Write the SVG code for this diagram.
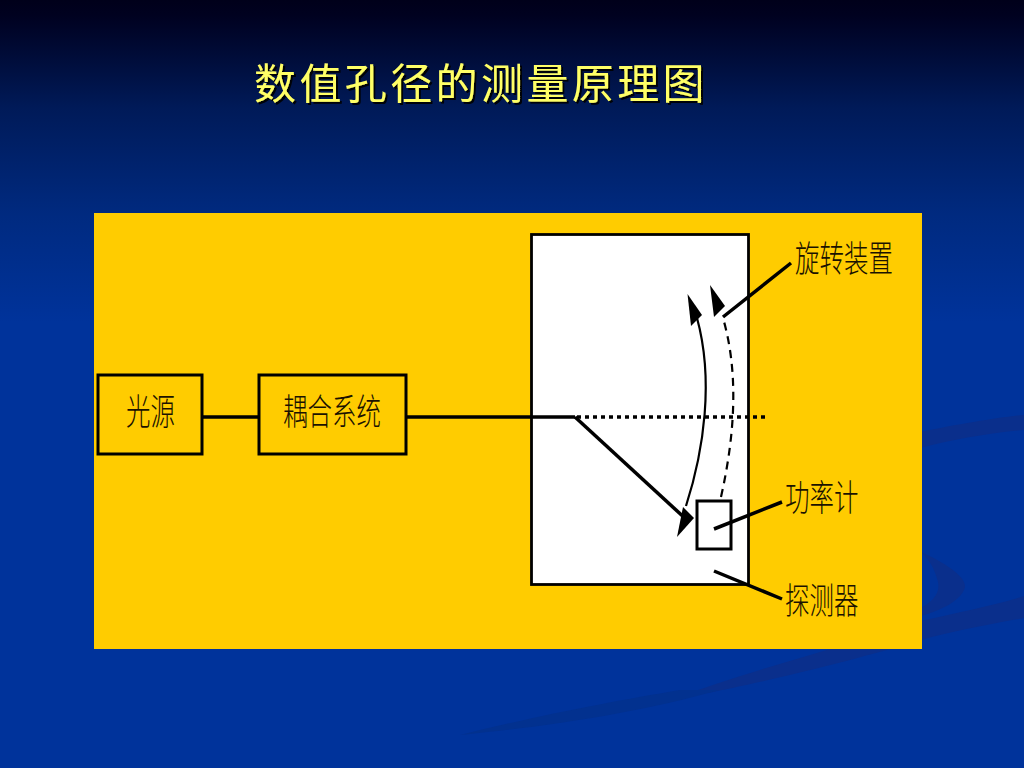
<svg xmlns="http://www.w3.org/2000/svg" width="1024" height="768" viewBox="0 0 1024 768">
<defs>
<linearGradient id="bg" x1="0" y1="0" x2="0" y2="1"><stop offset="0" stop-color="#00001a"/><stop offset="0.02" stop-color="#000120"/><stop offset="0.14" stop-color="#001a58"/><stop offset="0.28" stop-color="#002a80"/><stop offset="0.42" stop-color="#00339b"/><stop offset="1" stop-color="#00339b"/></linearGradient>
<filter id="sh" x="-5%" y="-20%" width="110%" height="140%"><feDropShadow dx="2" dy="2" stdDeviation="0.6" flood-color="#000" flood-opacity="0.9"/></filter>
</defs>
<style>
.cn{font-family:"Noto Sans CJK SC","Noto Sans CJK JP",sans-serif;fill:#1a1200;font-size:36px;font-weight:300}
.box{fill:none;stroke:#000;stroke-width:3}
.ln{fill:none;stroke:#000;stroke-width:3.500;stroke-linecap:butt}
.title{font-family:"Noto Sans CJK SC","Noto Sans CJK JP",sans-serif;fill:#ffff66;font-size:42px;letter-spacing:3.400px;font-weight:400;filter:url(#sh)}
</style>
<rect id="background" width="1024" height="768" fill="url(#bg)"/>
<g id="swooshes" fill="#0a2f8c">
<path d="M920 432C960 424 1000 417 1024 415V430C990 433 950 440 920 448Z"/>
<path d="M921 552C950 565 966 578 965 587C962 600 942 610 921 616V608C935 600 940 592 938 582C935 570 930 560 921 552Z"/>
<path d="M921 621C960 612 1000 604 1024 596V618C990 624 950 632 921 640C800 676 700 695 670 700C750 670 850 645 921 621Z"/>
</g>
<g id="swooshes-faint" fill="#02318f">
<path d="M460 735C540 715 620 700 680 690L720 690C640 712 560 725 460 735Z"/>
</g>
<rect id="panel" x="94" y="213" width="828" height="436" fill="#ffcc00"/>
<text id="title" class="title" x="254" y="99">数值孔径的测量原理图</text>
<g id="node-light">
<rect class="box" x="98" y="375" width="104" height="79"/>
<text class="cn" transform="translate(126 425) scale(0.68 1)">光源</text>
</g>
<g id="node-coupler">
<rect class="box" x="259" y="375" width="147" height="79"/>
<text class="cn" transform="translate(283 425) scale(0.68 1)">耦合系统</text>
</g>
<g id="node-rotator">
<rect x="531.500" y="234.500" width="217" height="350" fill="#fff" stroke="#000" stroke-width="2.800"/>
<text class="cn" transform="translate(795 272) scale(0.68 1)">旋转装置</text>
</g>
<g id="node-detector">
<rect x="697" y="501" width="34" height="48" fill="#fff" stroke="#000" stroke-width="3"/>
</g>
<text id="label-power" class="cn" transform="translate(785 511) scale(0.68 1)">功率计</text>
<text id="label-detector" class="cn" transform="translate(785 614) scale(0.68 1)">探测器</text>
<g id="connectors">
<path class="ln" d="M202 417H259M406 417H575"/>
<path d="M577 417H766" fill="none" stroke="#000" stroke-width="3.500" stroke-dasharray="4 4"/>
<path class="ln" d="M575 417L688 521"/>
<path d="M677 537L683 507L694 518Z" fill="#000"/>
<path d="M686 506C704 450 714 380 697 318" fill="none" stroke="#000" stroke-width="2.200"/>
<path d="M687.500 294L702 315L691 326Z" fill="#000"/>
<path d="M721 497C736 430 738 370 723 318" fill="none" stroke="#000" stroke-width="2.200" stroke-dasharray="8 6"/>
<path d="M710 285L725 306L714 317Z" fill="#000"/>
<path class="ln" d="M723 317L791 263M714 529L782 502M714 571L782 599"/>
</g>
</svg>
